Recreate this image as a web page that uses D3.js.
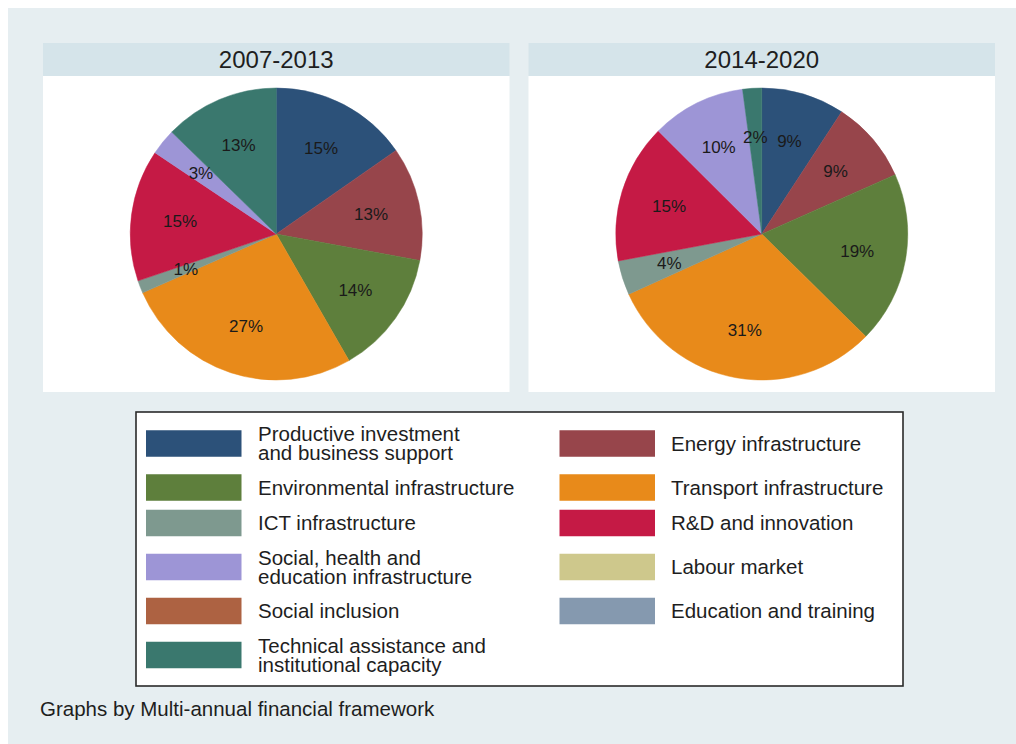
<!DOCTYPE html>
<html>
<head>
<meta charset="utf-8">
<script src="https://cdn.jsdelivr.net/npm/d3@7"></script>
<style>
  html, body { margin: 0; padding: 0; background: #ffffff; }
  svg { display: block; font-family: "Liberation Sans", Arial, Helvetica, sans-serif; }
</style>
</head>
<body>
<svg id="chart" width="1016" height="744"></svg>
<script>
// Funding categories, in slice / legend order
const categories = [
  "Productive investment\nand business support",
  "Energy infrastructure",
  "Environmental infrastructure",
  "Transport infrastructure",
  "ICT infrastructure",
  "R&D and innovation",
  "Social, health and\neducation infrastructure",
  "Labour market",
  "Social inclusion",
  "Education and training",
  "Technical assistance and\ninstitutional capacity"
];

const categoryColors = [
  "#2c5179", "#97454b", "#5e7f3c", "#e88a1a", "#7e998f", "#c51a45",
  "#9d95d6", "#cec88c", "#ad6242", "#8599af", "#3a786e"
];

// Shares of allocation (%) per financial framework
const periods = ["2007-2013", "2014-2020"];
const shares2007 = [15.3, 12.6, 13.8, 26.7, 1.4, 14.6, 2.9, 0, 0, 0, 12.7];
const shares2014 = [9.2, 9.1, 19.0, 30.8, 3.8, 15.4, 10.4, 0, 0, 0, 2.1];
const periodShares = [shares2007, shares2014];

const footnote = "Graphs by Multi-annual financial framework";

const svg = d3.select("#chart");

// outer graph region
svg.append("rect")
  .attr("x", 8).attr("y", 8)
  .attr("width", 1008).attr("height", 736)
  .attr("fill", "#e6eef1");

// panel geometry
const panelX = d3.scaleOrdinal().domain(periods).range([43, 528.5]);
const panelW = 466.5;
const headerY = 43, headerH = 33;
const plotY = 76, plotH = 316;
const radius = 146;

const pie = d3.pie().sort(null).value(d => d.value)
  .startAngle(0).endAngle(2 * Math.PI);
const arc = d3.arc().innerRadius(0).outerRadius(radius);
const labelArc = d3.arc().innerRadius(97).outerRadius(97);

periods.forEach((p, i) => {
  const x0 = panelX(p);
  const g = svg.append("g");

  g.append("rect")
    .attr("x", x0).attr("y", headerY)
    .attr("width", panelW).attr("height", headerH)
    .attr("fill", "#d5e4ea");
  g.append("text")
    .attr("x", x0 + panelW / 2).attr("y", headerY + headerH / 2 + 8.5)
    .attr("text-anchor", "middle")
    .attr("font-size", 24)
    .attr("fill", "#1e1e1e")
    .text(p);

  g.append("rect")
    .attr("x", x0).attr("y", plotY)
    .attr("width", panelW).attr("height", plotH)
    .attr("fill", "#ffffff");

  const data = categories.map((c, k) => ({ cat: c, value: periodShares[i][k], color: categoryColors[k] }));
  const arcs = pie(data).filter(d => d.data.value > 0);

  const pg = g.append("g")
    .attr("transform", `translate(${x0 + panelW / 2},${plotY + plotH / 2})`);

  pg.selectAll("path")
    .data(arcs)
    .join("path")
    .attr("d", arc)
    .attr("fill", d => d.data.color)
    .attr("stroke", d => d.data.color)
    .attr("stroke-width", 0.5);

  pg.selectAll("text")
    .data(arcs)
    .join("text")
    .attr("transform", d => `translate(${labelArc.centroid(d)})`)
    .attr("dy", "0.36em")
    .attr("text-anchor", "middle")
    .attr("font-size", 17)
    .attr("fill", "#1a1a1a")
    .text(d => Math.round(d.data.value) + "%");
});

// legend
const legend = svg.append("g");
legend.append("rect")
  .attr("x", 136).attr("y", 412)
  .attr("width", 767).attr("height", 274)
  .attr("fill", "#ffffff")
  .attr("stroke", "#2a2a2a")
  .attr("stroke-width", 1.6);

const colSwatchX = [146, 559.5];
const colTextX = [258, 671];
const swW = 95.5, swH = 26.5;
const lineH = 19;

// row centres: step depends on the number of text lines in adjacent rows
const nCols = 2;
const rows = d3.range(Math.ceil(categories.length / nCols)).map(r =>
  categories.slice(r * nCols, r * nCols + nCols));
const rowLines = rows.map(r => d3.max(r, c => c.split("\n").length));
const rowCentres = [];
rowLines.forEach((n, r) => {
  if (r === 0) rowCentres.push(443.5);
  else rowCentres.push(rowCentres[r - 1] + (rowLines[r - 1] + n) / 2 * 17 + 18.5);
});

categories.forEach((c, k) => {
  const r = Math.floor(k / nCols), col = k % nCols;
  const cy = rowCentres[r];
  legend.append("rect")
    .attr("x", colSwatchX[col]).attr("y", cy - swH / 2)
    .attr("width", swW).attr("height", swH)
    .attr("fill", categoryColors[k]);
  const lines = c.split("\n");
  const t = legend.append("text")
    .attr("font-size", 20.5)
    .attr("fill", "#1e1e1e");
  lines.forEach((ln, j) => {
    t.append("tspan")
      .attr("x", colTextX[col])
      .attr("y", cy + 7.3 + (j - (lines.length - 1) / 2) * lineH)
      .text(ln);
  });
});

svg.append("text")
  .attr("x", 40).attr("y", 716)
  .attr("font-size", 20.5)
  .attr("fill", "#1e1e1e")
  .text(footnote);
</script>
</body>
</html>
